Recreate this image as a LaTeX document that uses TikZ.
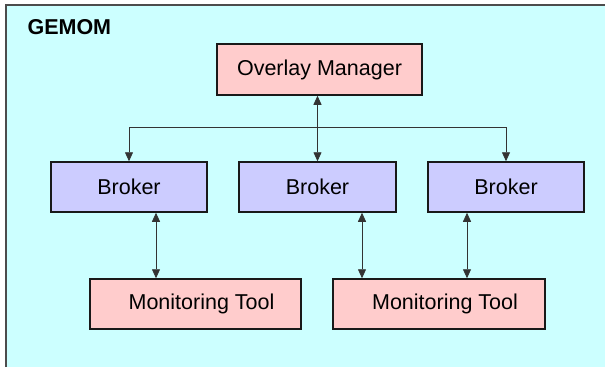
\documentclass[tikz,border=0pt]{standalone}
\usepackage{fontspec}
\setmainfont{Liberation Sans}
\usetikzlibrary{arrows.meta}
\definecolor{bgcyan}{HTML}{CCFFFF}
\definecolor{boxpink}{HTML}{FFCCCC}
\definecolor{boxblue}{HTML}{CCCCFF}
\tikzset{
  box/.style={draw=black!90, line width=1.5pt, minimum height=50pt,
    inner sep=0pt, font=\fontsize{21.5}{25}\selectfont},
  pinkbox/.style={box, fill=boxpink},
  bluebox/.style={box, fill=boxblue, minimum width=156pt},
  link/.style={draw=black!80, line width=0.8pt,
    arrows={-Triangle[width=8pt,length=9pt]}},
  dlink/.style={link, arrows={Triangle[width=8pt,length=9pt]-Triangle[width=8pt,length=9pt]}}
}
\begin{document}
\begin{tikzpicture}[x=1pt, y=-1pt]
\useasboundingbox (0,0) rectangle (605,367);
% background panel
\fill[bgcyan] (6,5) rectangle (605,367);
\draw[black!70, line width=1.5pt] (6,367) -- (6,5) -- (605,5);
\node[anchor=base west, font=\bfseries\fontsize{21.5}{25}\selectfont] (title) at (24,34) {GEMOM};

% nodes
\node[pinkbox, minimum width=205pt, minimum height=51pt] (om) at (319.5,69.5) {Overlay Manager};
\node[bluebox] (lb) at (129,187) {Broker};
\node[bluebox, minimum width=157pt] (mb) at (317.5,187) {Broker};
\node[bluebox] (rb) at (506,187) {Broker};
\node[pinkbox, minimum width=211pt] (lmt) at (195.5,304) {\hspace*{12pt}Monitoring Tool};
\node[pinkbox, minimum width=212pt] (rmt) at (439,304) {\hspace*{12pt}Monitoring Tool};

% distribution bus
\coordinate (hub) at (317,127);
\draw[link] (hub) -| (lb.north);
\draw[link] (hub) -| (rb.north);
\draw[dlink] (mb.north |- om.south) -- (mb.north);

% broker to monitoring tool links
\draw[dlink] ([xshift=27pt]lb.south) -- ([xshift=27pt]lb.south |- lmt.north);
\draw[dlink] ([xshift=44.5pt]mb.south) -- ([xshift=44.5pt]mb.south |- rmt.north);
\draw[dlink] ([xshift=-39pt]rb.south) -- ([xshift=-39pt]rb.south |- rmt.north);
\end{tikzpicture}
\end{document}
